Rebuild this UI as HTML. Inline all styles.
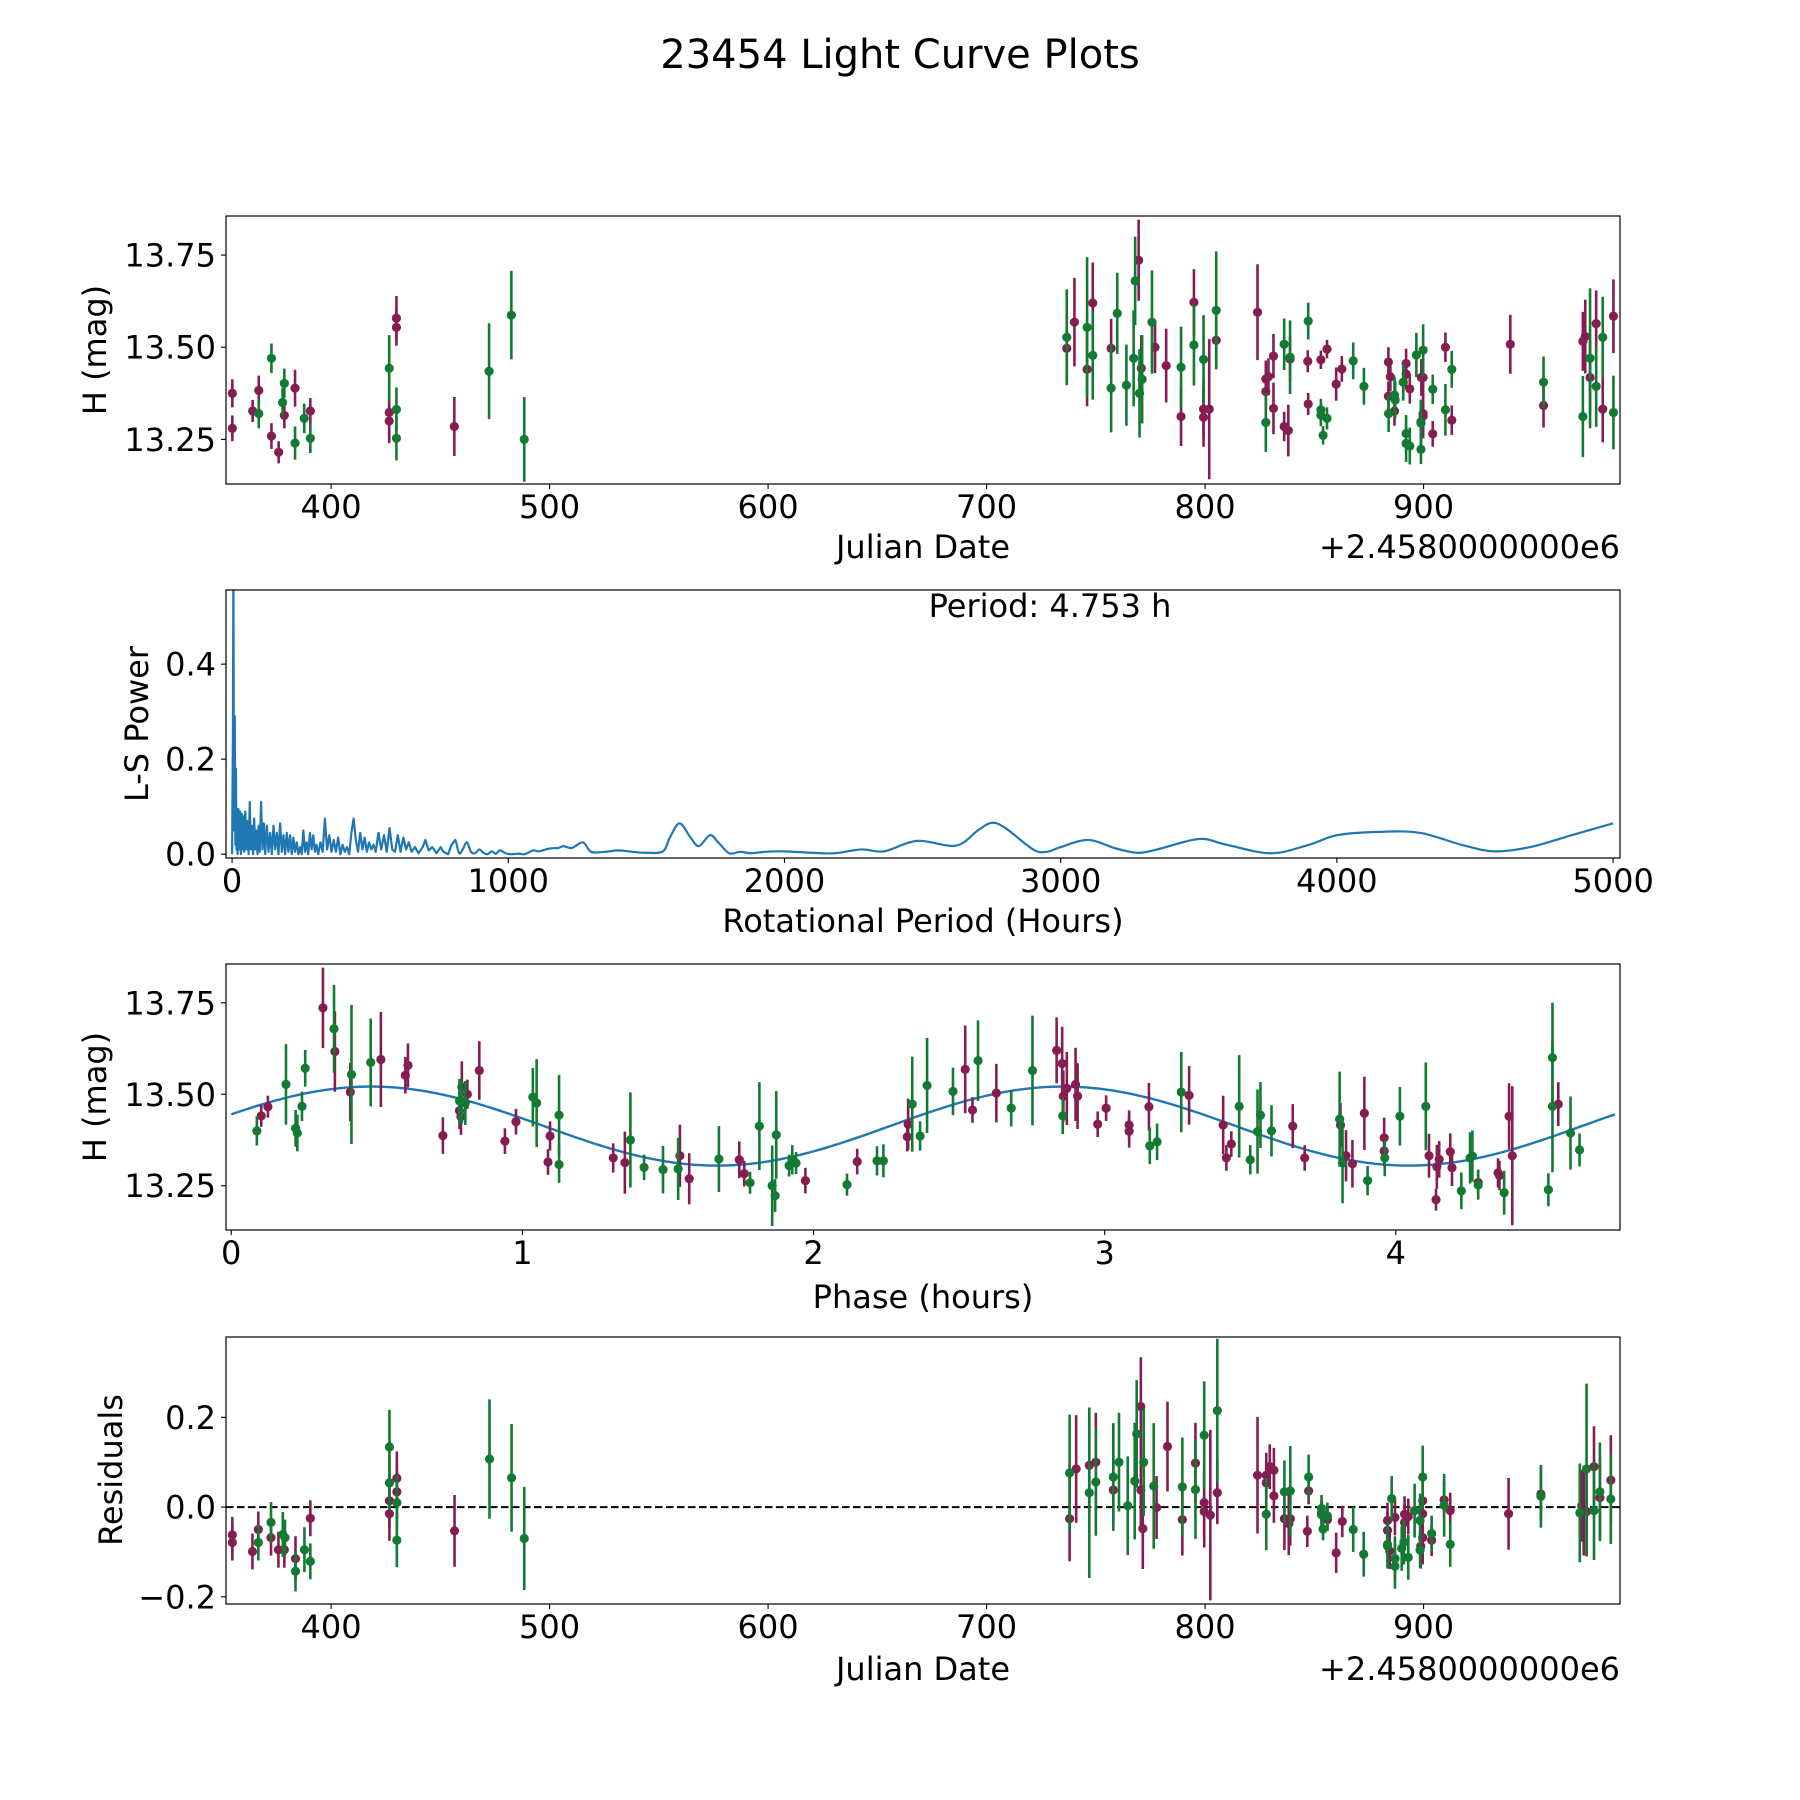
<!DOCTYPE html>
<html><head><meta charset="utf-8"><title>23454 Light Curve Plots</title>
<style>html,body{margin:0;padding:0;background:#fff}svg{display:block}text{font-family:"DejaVu Sans","Liberation Sans",sans-serif;fill:#000}</style>
</head><body>
<svg id="fig" xmlns="http://www.w3.org/2000/svg" width="1800" height="1800" viewBox="0 0 1800 1800">
<rect x="0" y="0" width="1800" height="1800" fill="#fff"/>
<text x="900" y="68" font-size="40" text-anchor="middle">23454 Light Curve Plots</text>
</svg>
<script>
// ---------- data: panel 1 (H mag vs Julian Date) ----------
const p1MagJD=[354.8,354.8,364.1,366.9,372.7,376,378.6,383.5,390.5,426.6,426.6,429.9,429.9,456.4,736.7,740.2,746,748.6,757,769.6,770.8,777.1,782.2,789,794.9,799.3,799.3,801.9,805.1,824,827.8,827.8,829,831.3,831.3,836.2,838.1,838.9,847,847.2,853,855.8,860,862.6,883.9,884.8,883.9,886.7,892,892,893.7,899,899.8,899.8,899.8,904.2,910,912.9,939.7,954.9,972.9,974,976.2,979,982,986.9];
const p1MagH=[13.375,13.28,13.327,13.383,13.259,13.215,13.315,13.389,13.327,13.323,13.30,13.579,13.554,13.285,13.497,13.568,13.44,13.62,13.497,13.736,13.443,13.50,13.45,13.312,13.622,13.332,13.31,13.332,13.519,13.595,13.414,13.38,13.42,13.476,13.334,13.285,13.274,13.468,13.462,13.346,13.466,13.495,13.40,13.441,13.46,13.42,13.367,13.327,13.456,13.427,13.387,13.418,13.418,13.32,13.313,13.265,13.5,13.302,13.508,13.342,13.516,13.529,13.418,13.564,13.332,13.584];
const p1MagErr=[.038,.035,.03,.04,.035,.03,.035,.05,.035,.06,.06,.06,.05,.08,.09,.12,.1,.11,.08,.11,.09,.07,.1,.08,.09,.08,.08,.19,.07,.13,.05,.05,.05,.06,.07,.04,.07,.06,.03,.03,.025,.025,.045,.035,.04,.04,.04,.04,.04,.04,.04,.05,.05,.06,.06,.035,.04,.04,.08,.06,.08,.1,.1,.09,.09,.1];
const p1GrnJD=[366.9,372.7,377.8,378.6,383.5,387.7,390.5,426.6,429.9,429.9,472.3,482.5,488.4,736.7,746,748.6,757,759.8,764,767.3,768,770,771.2,775.7,789,794.9,799.3,805.1,827.8,836.2,838.9,847.2,853,853,854,855.8,867.8,872.7,884,886.7,887,890.7,892,892,893.7,896.7,899.8,898.8,898.8,898.8,904.2,910,912.9,954.9,972.9,976.2,979,982,986.9];
const p1GrnH=[13.32,13.47,13.35,13.402,13.24,13.307,13.253,13.443,13.331,13.253,13.435,13.587,13.25,13.527,13.554,13.478,13.389,13.592,13.397,13.47,13.68,13.375,13.413,13.568,13.446,13.506,13.467,13.6,13.296,13.508,13.473,13.571,13.33,13.316,13.261,13.307,13.463,13.394,13.32,13.37,13.357,13.405,13.266,13.239,13.232,13.479,13.492,13.298,13.294,13.223,13.386,13.33,13.44,13.405,13.312,13.47,13.394,13.527,13.323];
const p1GrnErr=[.04,.04,.04,.04,.045,.04,.04,.09,.06,.06,.13,.12,.115,.13,.19,.12,.12,.11,.11,.13,.12,.12,.12,.14,.11,.11,.12,.16,.08,.07,.1,.05,.03,.03,.025,.03,.05,.05,.05,.05,.05,.05,.05,.05,.05,.06,.07,.06,.06,.04,.04,.07,.05,.07,.11,.19,.11,.11,.1];
const jdTicks=[400,500,600,700,800,900];
const magTicks=[13.25,13.50,13.75];
const magTickLabels=["13.25","13.50","13.75"];

// ---------- data: panel 2 (Lomb-Scargle periodogram) ----------
const lsPeriod=[0,3,4.75,6,8,10,12,14,16,18,20,23,26,29,32,35,38,41,44,48,52,56,60,64,68,72,76,80,84,88,92,96,100,105,110,115,120,126,132,138,144,150,156,162,168,174,180,186,192,198,204,210,216,222,228,234,240,246,252,258,264,270,276,282,288,294,300,306,312,320,328,336,344,352,360,368,376,384,392,400,408,416,424,432,440,448,456,464,472,480,488,496,504,512,520,530,540,550,560,570,580,590,600,610,620,630,640,650,662,675,690,700,712,725,740,755,765,782,795,808,822,835,850,865,880,895,910,925,940,955,970,990,1010,1040,1060,1090,1110,1150,1180,1200,1230,1270,1300,1350,1400,1450,1500,1560,1585,1620,1660,1690,1730,1760,1800,1840,1880,1930,2000,2100,2180,2280,2360,2480,2620,2700,2750,2800,2900,2950,3000,3100,3200,3280,3350,3500,3600,3760,3900,4000,4150,4300,4450,4570,4700,4850,5000];
const lsPower=[0,0.25,0.6,0.3,0.05,0.29,0.02,0.18,0.01,0.09,0.0,0.095,0.01,0.09,0.0,0.085,0.01,0.08,0.005,0.09,0.01,0.07,0.0,0.11,0.01,0.06,0.0,0.075,0.01,0.05,0.0,0.06,0.005,0.11,0.01,0.065,0.0,0.06,0.005,0.045,0.0,0.06,0.01,0.045,0.0,0.065,0.005,0.04,0.0,0.045,0.005,0.04,0.0,0.035,0.005,0.025,0.0,0.015,0.0,0.05,0.005,0.025,0.0,0.045,0.01,0.04,0.005,0.02,0.0,0.025,0.005,0.075,0.01,0.04,0.005,0.03,0.005,0.035,0.0,0.02,0.005,0.015,0.0,0.045,0.075,0.03,0.005,0.045,0.01,0.035,0.005,0.025,0.01,0.02,0.005,0.045,0.01,0.04,0.005,0.055,0.01,0.005,0.04,0.005,0.035,0.01,0.025,0.005,0.015,0.002,0.015,0.03,0.008,0.015,0.002,0.015,0.005,0.0,0.02,0.03,0.002,0.01,0.025,0.005,0.002,0.01,0.003,0.0,0.006,0.001,0.008,0.002,0.0,0.001,0.0,0.008,0.006,0.012,0.013,0.017,0.013,0.025,0.005,0.005,0.008,0.005,0.003,0.006,0.035,0.065,0.035,0.017,0.04,0.025,0.002,0.005,0.002,0.005,0.006,0.003,0.002,0.01,0.006,0.028,0.018,0.05,0.066,0.055,0.01,0.005,0.015,0.03,0.012,0.003,0.01,0.032,0.02,0.002,0.02,0.04,0.047,0.045,0.02,0.006,0.015,0.04,0.065];
const lsXTicks=[0,1000,2000,3000,4000,5000];
const lsYTicks=[0.0,0.2,0.4];
const lsYTickLabels=["0.0","0.2","0.4"];

// ---------- data: panel 3 (phase-folded) ----------
const phMagX=[0.103,0.126,0.315,0.356,0.409,0.514,0.598,0.607,0.727,0.784,0.789,0.792,0.811,0.852,0.94,0.978,1.088,1.095,1.312,1.352,1.541,1.573,1.745,1.762,1.972,2.15,2.322,2.325,2.521,2.546,2.628,2.835,2.854,2.858,2.87,2.9,2.907,2.976,3.005,3.084,3.084,3.152,3.29,3.407,3.418,3.435,3.646,3.687,3.81,3.829,3.851,3.892,3.96,3.96,4.114,4.138,4.141,4.149,4.187,4.193,4.283,4.351,4.356,4.389,4.4,4.558];
const phMagH=[13.441,13.466,13.736,13.617,13.506,13.595,13.552,13.579,13.387,13.455,13.439,13.52,13.5,13.565,13.372,13.425,13.315,13.386,13.326,13.313,13.332,13.269,13.321,13.283,13.264,13.316,13.384,13.418,13.568,13.457,13.503,13.62,13.584,13.495,13.516,13.527,13.495,13.418,13.462,13.416,13.399,13.466,13.497,13.416,13.326,13.364,13.413,13.326,13.416,13.332,13.31,13.448,13.381,13.345,13.332,13.212,13.302,13.322,13.343,13.299,13.259,13.285,13.278,13.44,13.332,13.473];
const phMagErr=[.03,.03,.11,.11,.08,.13,.05,.06,.05,.05,.05,.07,.04,.08,.035,.035,.035,.04,.04,.085,.085,.07,.05,.035,.035,.035,.04,.07,.12,.035,.08,.09,.1,.07,.1,.1,.09,.035,.035,.04,.045,.065,.08,.08,.035,.035,.06,.035,.06,.07,.065,.1,.055,.04,.06,.03,.06,.05,.05,.05,.035,.04,.04,.09,.19,.06];
const phGrnX=[0.088,0.188,0.221,0.227,0.243,0.254,0.353,0.413,0.479,0.784,0.792,0.804,1.036,1.049,1.126,1.126,1.371,1.418,1.483,1.535,1.675,1.782,1.814,1.858,1.868,1.872,1.916,1.927,1.94,2.115,2.218,2.24,2.339,2.366,2.39,2.479,2.565,2.679,2.752,2.856,3.155,3.18,3.263,3.462,3.5,3.525,3.535,3.573,3.807,3.817,3.903,3.962,4.014,4.103,4.225,4.255,4.263,4.283,4.372,4.524,4.538,4.538,4.6,4.631];
const phGrnH=[13.4,13.527,13.407,13.394,13.467,13.571,13.679,13.554,13.587,13.482,13.48,13.476,13.492,13.476,13.443,13.308,13.375,13.3,13.294,13.296,13.323,13.258,13.413,13.25,13.223,13.389,13.305,13.321,13.312,13.253,13.318,13.318,13.473,13.386,13.524,13.508,13.592,13.462,13.565,13.441,13.359,13.37,13.506,13.467,13.321,13.398,13.443,13.4,13.432,13.312,13.264,13.326,13.44,13.467,13.236,13.326,13.331,13.252,13.231,13.239,13.6,13.467,13.394,13.348];
const phGrnErr=[.04,.11,.05,.05,.04,.05,.12,.19,.12,.06,.06,.06,.08,.12,.11,.05,.13,.035,.065,.085,.09,.03,.12,.11,.045,.12,.03,.04,.03,.03,.04,.045,.13,.04,.13,.065,.11,.05,.15,.05,.05,.05,.11,.14,.04,.115,.09,.07,.13,.11,.04,.05,.08,.12,.05,.07,.07,.04,.06,.045,.15,.18,.1,.045];
// fitted model: mean, amplitude, phase of maximum brightness, half-period (h)
const fitParams=[13.413,0.108,0.48,2.3765];
const phXTicks=[0,1,2,3,4];

// ---------- data: panel 4 (residuals vs Julian Date) ----------
const resMagJD=[354.8,354.8,364,366.7,372.5,375.9,378.6,383.7,390.5,426.7,426.7,430.1,430.1,456.5,738,741,747,750,758,770.6,770.6,771.5,777.8,782.8,789.6,795.6,799.6,799.6,802.4,805.6,824,828,828,829.6,831.5,831.5,836.3,838.3,839,847.4,846.8,853.3,856,860,862.8,883.5,883.5,884.5,886.9,891.3,891.3,893,898.7,899.6,899.6,899.6,903.7,909.4,912.2,938.9,953.7,972.4,973.3,974.6,978,980.7,985.7];
const resMagR=[-0.062,-0.079,-0.099,-0.05,-0.068,-0.095,-0.095,-0.115,-0.025,0.014,-0.015,0.064,0.034,-0.053,-0.026,0.085,0.093,0.1,0.038,0.224,0.038,-0.048,-0.001,0.135,-0.028,0.098,0.01,-0.01,-0.018,0.032,0.071,0.054,0.071,0.09,0.082,0.025,-0.026,-0.037,-0.026,0.036,-0.054,-0.012,-0.028,-0.102,-0.032,-0.03,-0.052,-0.098,-0.023,-0.016,-0.034,-0.021,-0.087,0.014,-0.015,-0.068,-0.074,0.016,-0.008,-0.015,0.029,0.003,-0.008,-0.01,0.09,0.021,0.06];
const resMagErr=[.04,.04,.04,.04,.04,.04,.04,.05,.04,.06,.06,.06,.06,.08,.095,.12,.11,.11,.08,.11,.09,.09,.07,.1,.08,.09,.08,.08,.19,.07,.13,.05,.05,.05,.05,.06,.07,.07,.06,.03,.035,.025,.025,.045,.035,.04,.04,.04,.04,.04,.04,.04,.05,.05,.06,.06,.035,.04,.04,.08,.06,.08,.1,.1,.09,.09,.1];
const resGrnJD=[366.7,372.5,377.9,378.9,383.7,387.8,390.5,426.7,426.7,430.1,430.1,472.5,482.6,488.4,738,747,750,758,760.6,764.6,767.8,768.7,771.9,776.5,789.6,795.6,799.6,805.6,828,836.3,839,847.4,853.3,853.3,854,856,867.8,872.6,885.4,883.5,883.5,886.9,886.9,890,891,893,895.9,898.4,898.4,899.6,903.7,909.4,912.2,953.7,971.5,974.6,978,980.7,985.7];
const resGrnR=[-0.079,-0.034,-0.061,-0.068,-0.143,-0.095,-0.121,0.134,0.054,0.01,-0.074,0.107,0.065,-0.07,0.076,0.032,0.056,0.067,0.1,0.003,0.058,0.163,0.1,0.047,0.045,0.039,0.16,0.215,-0.016,0.034,0.036,0.067,-0.003,-0.017,-0.049,-0.02,-0.05,-0.105,0.019,-0.087,-0.083,-0.115,-0.132,-0.092,-0.078,-0.112,-0.008,-0.03,-0.096,0.067,-0.059,0.004,-0.083,0.024,-0.013,0.085,-0.008,0.034,0.018];
const resGrnErr=[.04,.045,.05,.04,.045,.05,.04,.083,.06,.06,.06,.133,.12,.115,.13,.19,.12,.12,.11,.11,.13,.12,.12,.14,.11,.11,.12,.16,.08,.07,.1,.05,.03,.03,.025,.03,.05,.05,.05,.05,.05,.05,.05,.05,.05,.05,.06,.06,.04,.07,.04,.07,.05,.07,.11,.19,.11,.11,.1];
const resTicks=[-0.2,0.0,0.2];
const resTickLabels=["\u22120.2","0.0","0.2"];

// ---------- drawing ----------
const NS="http://www.w3.org/2000/svg";
const svg=document.getElementById('fig');
const MAG="#861d52", GRN="#127a32", BLUE="#1f77b4";
const AX_L=226, AX_R=1620;
function el(tag,attrs,parent){const e=document.createElementNS(NS,tag);for(const k in attrs)e.setAttribute(k,attrs[k]);(parent||svg).appendChild(e);return e;}
function lin(d0,d1,r0,r1){return v=>r0+(v-d0)/(d1-d0)*(r1-r0);}

function makePanel(id,top,bottom,xlim,ylim){
  const g=el('g',{});
  
  
  const cp=el('clipPath',{id:'clip-'+id},g);
  el('rect',{x:AX_L,y:top,width:AX_R-AX_L,height:bottom-top},cp);
  const plot=el('g',{'clip-path':'url(#clip-'+id+')'},g);
  
  
  return {g,plot,top,bottom,x:lin(xlim[0],xlim[1],AX_L,AX_R),y:lin(ylim[0],ylim[1],bottom,top)};
}
function frame(P){
  const r=el('rect',{x:AX_L,y:P.top,width:AX_R-AX_L,height:P.bottom-P.top,fill:'none',stroke:'#000','stroke-width':1.2},P.g);
  
  
}
function xTicks(P,vals,labels,name){
  vals.forEach((v,i)=>{
    const X=P.x(v);
    const t=el('line',{x1:X,x2:X,y1:P.bottom,y2:P.bottom+5,stroke:'#000','stroke-width':1.1},P.g);
    
    
    const tx=el('text',{x:X,y:P.bottom+34,'font-size':32,'text-anchor':'middle'},P.g);
    tx.textContent=labels[i];
    
    
  });
}
function yTicks(P,vals,labels,name){
  vals.forEach((v,i)=>{
    const Y=P.y(v);
    const t=el('line',{x1:AX_L-5,x2:AX_L,y1:Y,y2:Y,stroke:'#000','stroke-width':1.1},P.g);
    
    
    const tx=el('text',{x:AX_L-10,y:Y+11.5,'font-size':32,'text-anchor':'end'},P.g);
    tx.textContent=labels[i];
    
    
  });
}
function label(P,text,x,y,rot,name,anchor){
  const t=el('text',{x:x,y:y,'font-size':32,'text-anchor':anchor||'middle'},P.g);
  if(rot)t.setAttribute('transform','rotate(-90 '+x+' '+y+')');
  t.textContent=text;
  
  
}
function errSeries(P,xs,ys,es,color,name){
  const g=el('g',{},P.plot);
  
  
  xs.forEach((xv,i)=>{
    const X=P.x(xv);
    const b=el('line',{x1:X,x2:X,y1:P.y(ys[i]-es[i]),y2:P.y(ys[i]+es[i]),stroke:color,'stroke-width':2.6},g);
    
    
  });
  xs.forEach((xv,i)=>{
    const c=el('circle',{cx:P.x(xv),cy:P.y(ys[i]),r:4.6,fill:color},g);
    
    
  });
}

// Panel 1
const P1=makePanel('lightcurve',216,484,[351.9,989.9],[13.129,13.856]);
errSeries(P1,p1MagJD,p1MagH,p1MagErr,MAG,'lightcurve-magenta-series');
errSeries(P1,p1GrnJD,p1GrnH,p1GrnErr,GRN,'lightcurve-green-series');
frame(P1);
xTicks(P1,jdTicks,jdTicks.map(String),'lightcurve-x');
yTicks(P1,magTicks,magTickLabels,'lightcurve-y');
label(P1,'H (mag)',106,350,true,'lightcurve-y-axis-title');
label(P1,'Julian Date',923,558,false,'lightcurve-x-axis-title');
label(P1,'+2.4580000000e6',1620,558,false,'lightcurve-x-offset-label','end');

// Panel 2
const P2=makePanel('periodogram',590,858,[-22,5025],[-0.008,0.556]);
{
  const pts=lsPeriod.map((p,i)=>[P2.x(p),P2.y(lsPower[i])]);
  let d='M'+pts[0][0].toFixed(2)+' '+pts[0][1].toFixed(2);
  for(let i=1;i<pts.length;i++){
    if(lsPeriod[i-1]>=800){
      const p0=pts[Math.max(i-2,0)],p1=pts[i-1],p2=pts[i],p3=pts[Math.min(i+1,pts.length-1)];
      const c1=[p1[0]+(p2[0]-p0[0])/6,p1[1]+(p2[1]-p0[1])/6];
      const c2=[p2[0]-(p3[0]-p1[0])/6,p2[1]-(p3[1]-p1[1])/6];
      d+='C'+c1[0].toFixed(2)+' '+c1[1].toFixed(2)+' '+c2[0].toFixed(2)+' '+c2[1].toFixed(2)+' '+p2[0].toFixed(2)+' '+p2[1].toFixed(2);
    } else d+='L'+pts[i][0].toFixed(2)+' '+pts[i][1].toFixed(2);
  }
  const pl=el('path',{d:d,fill:'none',stroke:BLUE,'stroke-width':2.2,'stroke-linejoin':'round'},P2.plot);
  
  
}
frame(P2);
xTicks(P2,lsXTicks,lsXTicks.map(String),'periodogram-x');
yTicks(P2,lsYTicks,lsYTickLabels,'periodogram-y');
label(P2,'L-S Power',148,724,true,'periodogram-y-axis-title');
label(P2,'Rotational Period (Hours)',923,932,false,'periodogram-x-axis-title');
label(P2,'Period: 4.753 h',1050,617,false,'period-annotation');

// Panel 3
const P3=makePanel('phase',964,1230,[-0.018,4.77],[13.129,13.856]);
{
  let d='';const N=300;
  for(let i=0;i<=N;i++){const ph=i/N*4.753;const m=fitParams[0]+fitParams[1]*Math.cos(2*Math.PI*(ph-fitParams[2])/fitParams[3]);d+=(i?'L':'M')+P3.x(ph).toFixed(2)+' '+P3.y(m).toFixed(2);}
  const pl=el('path',{d:d,fill:'none',stroke:BLUE,'stroke-width':2.4},P3.plot);
  
  
}
errSeries(P3,phMagX,phMagH,phMagErr,MAG,'phase-magenta-series');
errSeries(P3,phGrnX,phGrnH,phGrnErr,GRN,'phase-green-series');
frame(P3);
xTicks(P3,phXTicks,phXTicks.map(String),'phase-x');
yTicks(P3,magTicks,magTickLabels,'phase-y');
label(P3,'H (mag)',106,1097,true,'phase-y-axis-title');
label(P3,'Phase (hours)',923,1308,false,'phase-x-axis-title');

// Panel 4
const P4=makePanel('residuals',1337,1604,[351.9,989.9],[-0.216,0.379]);
{
  const z=el('line',{x1:AX_L,x2:AX_R,y1:P4.y(0),y2:P4.y(0),stroke:'#000','stroke-width':2,'stroke-dasharray':'7.5,3.5'},P4.plot);
  
  
}
errSeries(P4,resMagJD,resMagR,resMagErr,MAG,'residuals-magenta-series');
errSeries(P4,resGrnJD,resGrnR,resGrnErr,GRN,'residuals-green-series');
frame(P4);
xTicks(P4,jdTicks,jdTicks.map(String),'residuals-x');
yTicks(P4,resTicks,resTickLabels,'residuals-y');
label(P4,'Residuals',122,1470,true,'residuals-y-axis-title');
label(P4,'Julian Date',923,1680,false,'residuals-x-axis-title');
label(P4,'+2.4580000000e6',1620,1680,false,'residuals-x-offset-label','end');
</script>
</body></html>
